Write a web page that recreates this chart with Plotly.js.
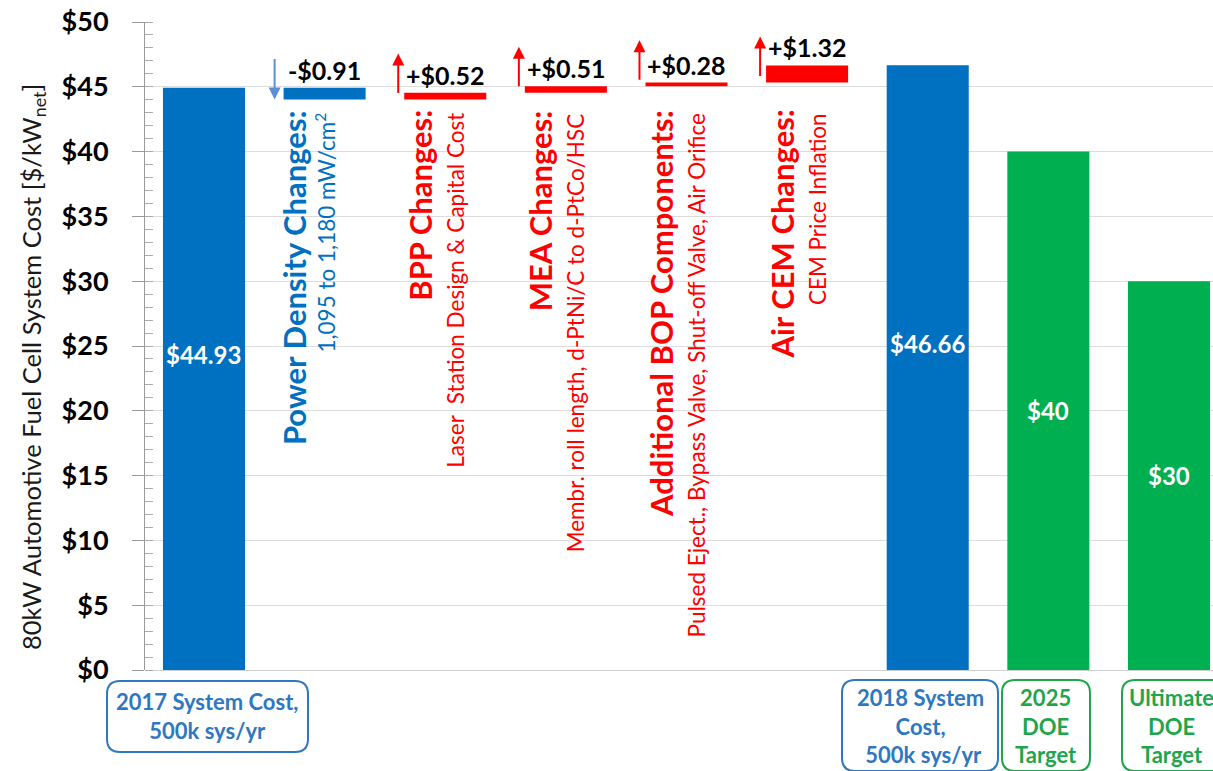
<!DOCTYPE html>
<html><head><meta charset="utf-8">
<script src="https://cdn.plot.ly/plotly-3.0.1.min.js"></script>
<style>html,body{margin:0;padding:0;background:#fff}#chart{width:1213px;height:771px}</style>
</head><body><div id="chart"></div>
<script>
// ---- data ----
const categories = ['2017 System Cost','Power Density Changes','BPP Changes','MEA Changes','Additional BOP Components','Air CEM Changes','2018 System Cost','2025 DOE Target','Ultimate DOE Target'];
const totalCats = [categories[0], categories[6], categories[7], categories[8]];
const totalValues = [44.93, 46.66, 40, 30];
const totalLabels = ['$44.93', '$46.66', '$40', '$30'];
const changeCats = categories.slice(1, 6);
const changeValues = [-0.91, 0.52, 0.51, 0.28, 1.32];
const changeLabels = ['-$0.91', '+$0.52', '+$0.51', '+$0.28', '+$1.32'];
const changeTitles = ['Power Density Changes:', 'BPP Changes:', 'MEA Changes:', 'Additional BOP Components:', 'Air CEM Changes:'];
const changeDetails = ['1,095 to 1,180 mW/cm<sup>2</sup>', 'Laser  Station Design & Capital Cost', 'Membr. roll length, d-PtNi/C to d-PtCo/HSC', 'Pulsed Eject., Bypass Valve, Shut-off Valve, Air Orifice', 'CEM Price Inflation'];
const boxLabels = ['2017 System Cost,<br>500k sys/yr', '2018 System<br>Cost,<br> 500k sys/yr', '2025<br>DOE<br>Target', 'Ultimate<br>DOE<br>Target'];
const yTitle = '80kW Automotive Fuel Cell System Cost [$/kW<sub>net</sub>]';
const yTickVals = [0, 5, 10, 15, 20, 25, 30, 35, 40, 45, 50];
const yTickText = ['$0', '$5', '$10', '$15', '$20', '$25', '$30', '$35', '$40', '$45', '$50'];

// ---- styles ----
const BLUE = '#0070C0', RED = '#FF0000', GREEN = '#00B050';
const LBLUE = '#2E78BF', LGREEN = '#1FA64D';
const FONT = 'Lato, sans-serif';
const totalColors = [BLUE, BLUE, GREEN, GREEN];

// cumulative bases for the change bars
const changeBases = [];
let run = totalValues[0];
changeValues.forEach(v => { changeBases.push(run); run += v; });
const changeColors = changeValues.map(v => v < 0 ? BLUE : RED);

const W = 1213, H = 771, ML = 145, MR = 0, MT = 22, MB = 101;
const PW = W - ML - MR, PH = H - MT - MB;
const px2x = p => (p - ML) / PW;
const px2y = p => (H - MB - p) / PH;

const traces = [
  {type: 'bar', x: totalCats, y: totalValues, width: 0.68, marker: {color: totalColors}, hoverinfo: 'x+y'},
  {type: 'bar', x: changeCats, y: changeValues, base: changeBases, width: 0.68, marker: {color: changeColors}, hoverinfo: 'x+y'}
];

const annotations = [];
const shapes = [];

// y axis title (placed as annotation to match the reference offset)
annotations.push({xref: 'paper', yref: 'paper', x: px2x(33), y: px2y(367), xanchor: 'center', yanchor: 'middle',
  textangle: -90, text: yTitle, showarrow: false, font: {family: FONT, size: 25.5, color: '#1a1a1a'}});

// labels inside total bars
totalCats.forEach((c, i) => {
  annotations.push({x: c, y: totalValues[i] / 2, xref: 'x', yref: 'y', text: totalLabels[i], showarrow: false,
    yshift: i < 2 ? 24 : 0, font: {family: FONT, size: 24, color: '#fff', weight: 700}});
});

// change bars: value labels, arrows, vertical descriptions
changeCats.forEach((c, i) => {
  const v = changeValues[i], b = changeBases[i];
  const top = Math.max(b, b + v);
  annotations.push({x: c, y: top, xref: 'x', yref: 'y', yanchor: 'bottom', yshift: 1, text: '<b>' + changeLabels[i] + '</b>',
    showarrow: false, font: {family: FONT, size: 25, color: '#000'}});
  if (v < 0) {
    annotations.push({x: c, y: b + v, xref: 'x', yref: 'y', xshift: -50, text: '', showarrow: true,
      ax: 0, ay: -42, axref: 'pixel', ayref: 'pixel', arrowhead: 2, arrowsize: 1.2, arrowwidth: 2, arrowcolor: '#5B8FD6'});
  } else {
    annotations.push({x: c, y: b + 3.55, xref: 'x', yref: 'y', xshift: -47, text: '', showarrow: true,
      ax: 0, ay: 41, axref: 'pixel', ayref: 'pixel', arrowhead: 2, arrowsize: 1.2, arrowwidth: 2, arrowcolor: RED});
  }
  const col = v < 0 ? BLUE : RED;
  annotations.push({x: c, y: px2y(108), xref: 'x', yref: 'paper', yanchor: 'top', xanchor: 'center', xshift: i === 0 ? -31 : -26,
    textangle: -90, text: '<b>' + changeTitles[i] + '</b>', showarrow: false, font: {family: FONT, size: 31, color: col}});
  annotations.push({x: c, y: px2y(111), xref: 'x', yref: 'paper', yanchor: 'top', xanchor: 'center', xshift: i === 0 ? 0 : 10,
    textangle: -90, text: changeDetails[i], showarrow: false, font: {family: FONT, size: 22.5, color: col}});
});

// rounded label boxes below the axis
function roundRect(x0, y0, x1, y1, r) {
  const X = p => px2x(p).toFixed(5), Y = p => px2y(p).toFixed(5);
  return 'M' + X(x0 + r) + ',' + Y(y0) + ' L' + X(x1 - r) + ',' + Y(y0) + ' Q' + X(x1) + ',' + Y(y0) + ' ' + X(x1) + ',' + Y(y0 + r) +
    ' L' + X(x1) + ',' + Y(y1 - r) + ' Q' + X(x1) + ',' + Y(y1) + ' ' + X(x1 - r) + ',' + Y(y1) +
    ' L' + X(x0 + r) + ',' + Y(y1) + ' Q' + X(x0) + ',' + Y(y1) + ' ' + X(x0) + ',' + Y(y1 - r) +
    ' L' + X(x0) + ',' + Y(y0 + r) + ' Q' + X(x0) + ',' + Y(y0) + ' ' + X(x0 + r) + ',' + Y(y0) + ' Z';
}
const boxes = [[107, 681, 308, 752], [842, 680, 998, 771], [1002, 680, 1090, 771], [1122, 680, 1228, 771]];
const boxColors = [LBLUE, LBLUE, LGREEN, LGREEN];
boxes.forEach((bx, i) => {
  shapes.push({type: 'path', xref: 'paper', yref: 'paper', path: roundRect(bx[0], bx[1], bx[2], bx[3], 13),
    line: {color: boxColors[i], width: 2}, layer: 'above'});
  annotations.push({xref: 'paper', yref: 'paper', x: px2x((bx[0] + bx[2]) / 2 + (i === 3 ? -4 : 0)), y: px2y(i === 0 ? 716 : 726),
    xanchor: 'center', yanchor: 'middle', text: '<b>' + boxLabels[i] + '</b>', showarrow: false,
    font: {family: FONT, size: 22, color: boxColors[i]}});
});

const layout = {
  width: W, height: H,
  margin: {l: ML, r: MR, t: MT, b: MB, pad: 0},
  paper_bgcolor: '#fff', plot_bgcolor: '#fff',
  showlegend: false, barmode: 'overlay',
  xaxis: {type: 'category', categoryorder: 'array', categoryarray: categories, range: [-0.489, 8.365],
    showticklabels: false, showgrid: false, zeroline: false, showline: false, ticks: '', fixedrange: true},
  yaxis: {range: [0, 50], tickvals: yTickVals, ticktext: yTickText, ticks: 'outside', ticklen: 12, tickcolor: '#999', tickwidth: 1,
    ticklabelstandoff: 18,
    minor: {dtick: 1, ticks: 'inside', ticklen: 8, tickcolor: '#aaa', showgrid: false},
    showline: true, linecolor: '#999', linewidth: 1, gridcolor: '#dcdcdc', gridwidth: 1, zeroline: true, zerolinecolor: '#cfcfcf',
    tickfont: {family: FONT, size: 27, color: '#000', weight: 700}},
  annotations: annotations, shapes: shapes,
  font: {family: FONT}
};

Plotly.newPlot('chart', traces, layout, {displayModeBar: false, staticPlot: true});
</script>
</body></html>
